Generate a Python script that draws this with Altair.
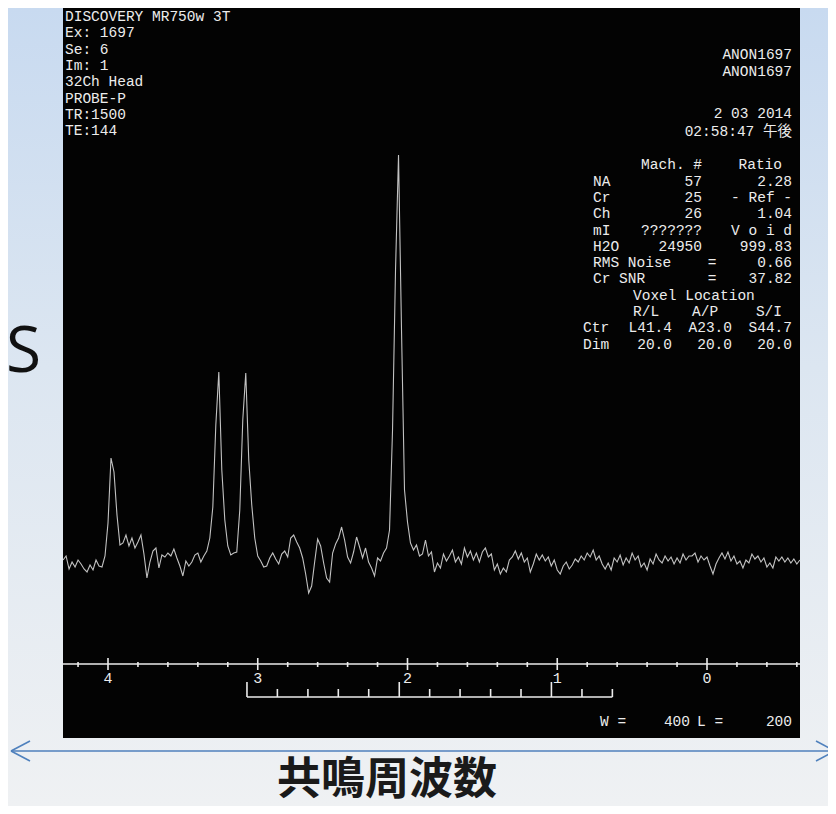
import altair as alt
import pandas as pd

# ---------------- data ----------------
# spectrum sampled every 0.02 ppm from 4.30 ppm downwards (intensity, arbitrary units)
PPM_START = 4.30
PPM_STEP = 0.02
intensity = [
    0, 4, -9, -2, -7, 0, -4, -9, -12, -5,          # 4.30 .. 4.12
    -10, 0, -6, -7, 4, 37, 102, 88, 45, 15,        # 4.10 .. 3.92
    17, 25, 14, 22, 12, 18, 25, 6, -18, -2,        # 3.90 .. 3.72
    9, 12, -8, 5, 3, 7, 4, 11, 2, -6,              # 3.70 .. 3.52
    -16, -1, -6, -2, 5, 7, -2, 4, 9, 22,           # 3.50 .. 3.32
    53, 135, 188, 90, 40, 14, 5, 7, 8, 50,         # 3.30 .. 3.12
    140, 187, 100, 55, 22, 4, -1, -7, -6, 2,       # 3.10 .. 2.92
    7, 1, -4, 6, 9, 3, 22, 25, 18, 12,             # 2.90 .. 2.72
    2, -14, -33, -26, -2, 21, 14, -3, -18, -22,    # 2.70 .. 2.52
    7, 16, 22, 33, 20, 3, -3, 8, 23, 13,           # 2.50 .. 2.32
    2, 12, -2, -8, -16, 2, -1, 7, 12, 30,          # 2.30 .. 2.12
    130, 290, 405, 230, 70, 38, 17, 10, 15, 4,     # 2.10 .. 1.92
    6, 20, 4, 8, -12, -3, -8, 6, -1, 4,            # 1.90 .. 1.72
    10, -2, 3, -4, 12, 3, 9, 0, 7, -2,             # 1.70 .. 1.52
    8, 12, 3, 6, -10, -4, -14, -8, -12, 0,         # 1.50 .. 1.32
    3, 9, 1, 7, -2, 2, -12, -4, 6, 0,              # 1.30 .. 1.12
    5, -1, 3, -6, 0, -10, -14, -6, -2, -9,         # 1.10 .. 0.92
    -5, 1, -2, 4, 0, 7, 3, 10, 0, 4,               # 0.90 .. 0.72
    -4, -9, -3, -10, 2, -2, 5, -5, 2, -3,          # 0.70 .. 0.52
    7, 0, 4, -7, -3, -10, 1, -4, 6, 0,             # 0.50 .. 0.32
    -3, 4, -1, 3, -4, 2, -3, 6, 0, 4,              # 0.30 .. 0.12
    4, 7, -2, 4, 0, 3, -6, -14, -4, 2,             # 0.10 .. -0.08
    7, 1, 8, -1, 4, -4, -1, -8, 0, -3,             # -0.10 .. -0.28
    6, 1, 4, -2, 2, -7, -3, -8, 3, -1,             # -0.30 .. -0.48
    3, -2, 2, -3, 1, -4, 0,                        # -0.50 .. -0.62
]
ppm = [round(PPM_START - PPM_STEP * i, 3) for i in range(len(intensity))]

major_ticks = [4, 3, 2, 1, 0]
major_labels = ["4", "3", "2", "1", "0"]
minor_ticks = [4.2, 3.8, 3.6, 3.4, 3.2, 2.8, 2.6, 2.4, 2.2, 1.8, 1.6, 1.4, 1.2,
               0.8, 0.6, 0.4, 0.2, -0.2, -0.4, -0.6]
ruler_major = [3.072, 2.055, 1.039]
ruler_minor = [2.869, 2.665, 2.462, 2.259, 1.852, 1.649, 1.445, 1.242, 0.835, 0.632]

# screen texts: (text, screen row)
header_left = [("DISCOVERY MR750w 3T", 0), ("Ex: 1697", 1), ("Se: 6", 2), ("Im: 1", 3),
               ("32Ch Head", 4), ("PROBE-P", 5), ("TR:1500", 6), ("TE:144", 7)]
col_right_edge = [("ANON1697", 2.35), ("ANON1697", 3.4), ("2 03 2014", 5.95),
                  ("02:58:47 午後", 7.08),
                  ("2.28", 10.1), ("- Ref -", 11.1), ("1.04", 12.1), ("V o i d", 13.1),
                  ("999.83", 14.1), ("0.66", 15.1), ("37.82", 16.1),
                  ("S44.7", 19.1), ("20.0", 20.1), ("200", 43.25)]
col_metab = [("NA", 10.1), ("Cr", 11.1), ("Ch", 12.1), ("mI", 13.1), ("H2O", 14.1),
             ("RMS Noise", 15.1), ("Cr SNR", 16.1)]
col_mach = [("Mach. #", 9.1), ("57", 10.1), ("25", 11.1), ("26", 12.1),
            ("???????", 13.1), ("24950", 14.1)]
col_equals = [("=", 15.1), ("=", 16.1)]
col_ratio_head = [("Ratio", 9.1), ("S/I", 18.1)]
col_voxel = [("Voxel Location", 17.1), ("R/L", 18.1)]
col_ap = [("A/P", 18.1)]
col_dim = [("Ctr", 19.1), ("Dim", 20.1)]
col_rl_val = [("L41.4", 19.1), ("20.0", 20.1)]
col_ap_val = [("A23.0", 19.1), ("20.0", 20.1)]
col_w = [("W =", 43.25)]
col_wval = [("400", 43.25)]
col_l = [("L =", 43.25)]

title_text = "共鳴周波数"
side_text = "RS"

# ---------------- chart ----------------
W, H = 737, 730
xscale = alt.Scale(domain=[-0.621, 4.3005], reverse=True, nice=False, zero=False)
rowscale = alt.Scale(domain=[0, 10], range=[9, 172], nice=False, zero=False)
MONO = "Liberation Mono, Noto Sans CJK JP, monospace"
FG = "#ececec"
FS = 14.5


def nb(s):
    return s.replace(" ", "\u00a0")


def txt(items, x, align):
    df = pd.DataFrame({"t": [nb(a) for a, _ in items], "row": [b for _, b in items]})
    return alt.Chart(df).mark_text(
        color=FG, font=MONO, fontSize=FS, align=align, baseline="middle").encode(
        x=alt.value(x), y=alt.Y("row:Q", scale=rowscale, axis=None), text="t:N")


one = pd.DataFrame({"k": [0]})
spec_df = pd.DataFrame({"ppm": ppm, "v": intensity})
major_df = pd.DataFrame({"ppm": major_ticks, "label": major_labels})
minor_df = pd.DataFrame({"ppm": minor_ticks})
rmaj_df = pd.DataFrame({"ppm": ruler_major})
rmin_df = pd.DataFrame({"ppm": ruler_minor})
rline_df = pd.DataFrame({"a": [ruler_major[0]], "b": [ruler_minor[-1]]})

bg = alt.Chart(one).mark_rect(
    fill=alt.Gradient(
        gradient="linear", x1=0, y1=0, x2=0, y2=1,
        stops=[alt.GradientStop(color="#c8daf0", offset=0),
               alt.GradientStop(color="#dce6f1", offset=0.45),
               alt.GradientStop(color="#eff1f3", offset=1)])
).encode(x=alt.value(-55), x2=alt.value(765), y=alt.value(0), y2=alt.value(798))

panel = alt.Chart(one).mark_rect(fill="#030303").encode(
    x=alt.value(0), x2=alt.value(W), y=alt.value(0), y2=alt.value(H))

spectrum = alt.Chart(spec_df).mark_line(color="#c2c2c2", strokeWidth=1.1).encode(
    x=alt.X("ppm:Q", scale=xscale, axis=None),
    y=alt.Y("v:Q", scale=alt.Scale(domain=[-178, 552], nice=False, zero=False), axis=None))

axis_line = alt.Chart(one).mark_rule(color=FG, strokeWidth=1.6).encode(
    x=alt.value(0), x2=alt.value(W), y=alt.value(656))
major = alt.Chart(major_df).mark_rule(color=FG, strokeWidth=1.6).encode(
    x=alt.X("ppm:Q", scale=xscale, axis=None), y=alt.value(650), y2=alt.value(662))
minor = alt.Chart(minor_df).mark_rule(color=FG, strokeWidth=1.6).encode(
    x=alt.X("ppm:Q", scale=xscale, axis=None), y=alt.value(654), y2=alt.value(659))
labels = alt.Chart(major_df).mark_text(color=FG, font=MONO, fontSize=15, baseline="middle").encode(
    x=alt.X("ppm:Q", scale=xscale, axis=None), y=alt.value(670), text="label:N")

ruler_line = alt.Chart(rline_df).mark_rule(color=FG, strokeWidth=1.6).encode(
    x=alt.X("a:Q", scale=xscale, axis=None), x2="b:Q", y=alt.value(689))
ruler_maj = alt.Chart(rmaj_df).mark_rule(color=FG, strokeWidth=1.6).encode(
    x=alt.X("ppm:Q", scale=xscale, axis=None), y=alt.value(674), y2=alt.value(689))
ruler_min = alt.Chart(rmin_df).mark_rule(color=FG, strokeWidth=1.6).encode(
    x=alt.X("ppm:Q", scale=xscale, axis=None), y=alt.value(681), y2=alt.value(689))

texts = [
    txt(header_left, 2, "left"),
    txt(col_right_edge, 729, "right"),
    txt(col_metab, 530, "left"),
    txt(col_mach, 639, "right"),
    txt(col_equals, 649, "center"),
    txt(col_ratio_head, 719, "right"),
    txt(col_voxel, 570, "left"),
    txt(col_ap, 629, "left"),
    txt(col_dim, 520, "left"),
    txt(col_rl_val, 609, "right"),
    txt(col_ap_val, 669, "right"),
    txt(col_w, 537, "left"),
    txt(col_wval, 627, "right"),
    txt(col_l, 634, "left"),
]

arrow_col = "#4f81bd"
shaft = alt.Chart(one).mark_rule(color=arrow_col, strokeWidth=1.6).encode(
    x=alt.value(-52), x2=alt.value(772), y=alt.value(743))
lh1 = alt.Chart(one).mark_rule(color=arrow_col, strokeWidth=1.6).encode(
    x=alt.value(-52), x2=alt.value(-33), y=alt.value(743), y2=alt.value(733))
lh2 = alt.Chart(one).mark_rule(color=arrow_col, strokeWidth=1.6).encode(
    x=alt.value(-52), x2=alt.value(-33), y=alt.value(743), y2=alt.value(753))
rh1 = alt.Chart(one).mark_rule(color=arrow_col, strokeWidth=1.6).encode(
    x=alt.value(772), x2=alt.value(753), y=alt.value(743), y2=alt.value(733))
rh2 = alt.Chart(one).mark_rule(color=arrow_col, strokeWidth=1.6).encode(
    x=alt.value(772), x2=alt.value(753), y=alt.value(743), y2=alt.value(753))

title = alt.Chart(one).mark_text(
    text=title_text, font="Noto Sans CJK JP", fontSize=44, fontWeight="bold",
    color="#1a1a1a", align="center", baseline="middle").encode(
    x=alt.value(324), y=alt.value(773))
side = alt.Chart(one).mark_text(
    text=side_text, font="Open Sans", fontSize=64, color="#111111",
    align="right", baseline="alphabetic").encode(
    x=alt.value(-22), y=alt.value(364))

chart = alt.layer(
    bg, panel, spectrum, axis_line, major, minor, labels,
    ruler_line, ruler_maj, ruler_min, *texts,
    shaft, lh1, lh2, rh1, rh2, title, side
).resolve_scale(y="independent").properties(
    width=W, height=H,
    padding={"left": 55, "top": 0, "right": 28, "bottom": 68},
    autosize=alt.AutoSizeParams(type="none"),
    background="#dfe7f0",
).configure_view(stroke=None)

chart.save("out.html", embed_options={"renderer": "svg", "actions": False})
